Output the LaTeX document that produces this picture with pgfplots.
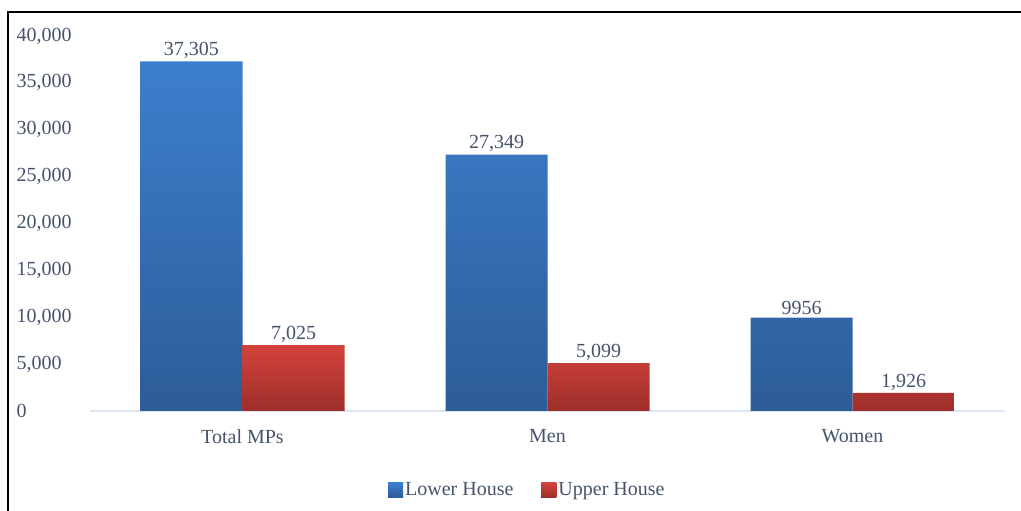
\documentclass[border=0pt]{standalone}
\usepackage{pgfplots}
\pgfplotsset{compat=1.18}
\usepackage{fontspec}
\setmainfont{Liberation Serif}
\definecolor{txt}{HTML}{44546A}
\definecolor{bluetop}{HTML}{3C7FCD}
\definecolor{bluebot}{HTML}{2D5C98}
\definecolor{redtop}{HTML}{D3433C}
\definecolor{redbot}{HTML}{9E2E2A}
\definecolor{axline}{HTML}{DCE5F3}
\begin{document}
\begin{tikzpicture}[x=1pt,y=1pt]
\path[use as bounding box] (0,0) rectangle (1021,511);
\draw[black, line width=1.6pt] (8,0) -- (8,499) -- (1021,499);
\begin{axis}[
  at={(90pt,100pt)}, anchor=south west,
  scale only axis, width=915pt, height=375pt,
  xmin=-0.5, xmax=2.5, ymin=0, ymax=40000,
  ybar=0pt, bar width=102pt,
  xtick=data, xticklabels={Total MPs, Men, Women},
  ytick={0,5000,...,40000},
  major tick length=0pt,
  axis x line*=bottom, axis y line*=left,
  x axis line style={draw=axline, line width=2.5pt},
  y axis line style={draw=none},
  font=\fontsize{20}{24}\selectfont,
  /pgf/number format/assume math mode=true,
  /pgf/number format/1000 sep={,},
  scaled y ticks=false,
  yticklabel style={anchor=west, xshift=-77pt, text=txt},
  xticklabel style={text=txt, yshift=-15pt},
  nodes near coords,
  point meta=explicit symbolic,
  nodes near coords style={text=txt, yshift=-1pt},
  legend columns=2,
  legend style={at={(0.478,-0.211)}, anchor=center, draw=none, fill=none,
    text=txt, /tikz/every even column/.append style={column sep=26pt}},
  legend image code/.code={\fill[#1] (0pt,-7.5pt) rectangle (15pt,7.5pt);},
]
\addplot[draw=none, top color=bluetop, bottom color=bluebot] coordinates {(0,37305)[37,305] (1,27349)[27,349] (2,9956)[9956]};
\addplot[draw=none, top color=redtop, bottom color=redbot] coordinates {(0,7025)[7,025] (1,5099)[5,099] (2,1926)[1,926]};
\legend{Lower House, Upper House}
\end{axis}
\end{tikzpicture}
\end{document}
